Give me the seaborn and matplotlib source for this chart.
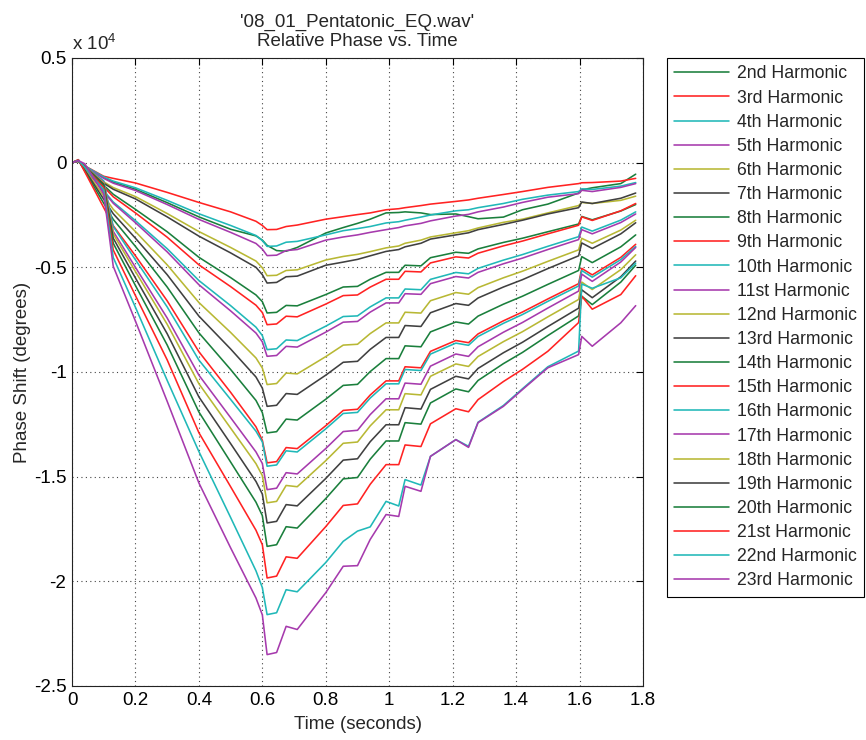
import matplotlib
matplotlib.use("Agg")
import matplotlib.pyplot as plt
import pandas as pd
import seaborn as sns
from matplotlib.ticker import FuncFormatter, MultipleLocator

# ---------------- data ----------------
time_s = [0.00, 0.02, 0.04, 0.10, 0.13, 0.20, 0.30, 0.40, 0.50, 0.58, 0.60, 0.615,
          0.645, 0.675, 0.71, 0.80, 0.855, 0.90, 0.94, 0.99, 1.03, 1.05, 1.10, 1.13,
          1.21, 1.25, 1.28, 1.36, 1.42, 1.50, 1.597, 1.607, 1.64, 1.73, 1.777]

harmonic_02 = [0, 85, -170, -720, -930, -1270, -1910, -2590, -3180, -3500, -3700, -3950,
               -4200, -4230, -4050, -3360, -3100, -2900, -2700, -2400, -2380, -2350, -2400, -2480,
               -2450, -2580, -2680, -2600, -2250, -1980, -1450, -1300, -1200, -1000, -550]
harmonic_03 = [0, 60, -150, -650, -750, -970, -1420, -1900, -2350, -2800, -3000, -3200,
               -3190, -3050, -2980, -2700, -2580, -2480, -2400, -2250, -2200, -2150, -2050, -1980,
               -1850, -1780, -1700, -1520, -1380, -1180, -1000, -960, -950, -880, -750]
harmonic_04 = [0, 80, -160, -680, -880, -1200, -1800, -2440, -3000, -3480, -3720, -4000,
               -3980, -3800, -3760, -3450, -3250, -3150, -3050, -2880, -2820, -2750, -2600, -2500,
               -2300, -2250, -2150, -1950, -1750, -1550, -1380, -1250, -1280, -1120, -950]
harmonic_05 = [0, 90, -180, -750, -980, -1330, -2000, -2710, -3330, -3860, -4130, -4440,
               -4420, -4200, -4150, -3700, -3550, -3450, -3330, -3200, -3100, -3020, -2900, -2780,
               -2550, -2470, -2350, -2120, -1900, -1650, -1480, -1320, -1380, -1180, -1000]
harmonic_06 = [0, 110, -220, -920, -1190, -1620, -2430, -3290, -4050, -4700, -5020, -5400,
               -5380, -5150, -5120, -4650, -4480, -4380, -4250, -4070, -3980, -3850, -3700, -3550,
               -3350, -3250, -3120, -2850, -2700, -2400, -2050, -1900, -1950, -1800, -1600]
harmonic_07 = [0, 115, -230, -980, -1270, -1730, -2590, -3510, -4310, -5000, -5350, -5750,
               -5720, -5450, -5420, -4900, -4750, -4620, -4450, -4240, -4150, -4020, -3850, -3650,
               -3450, -3350, -3200, -2950, -2750, -2450, -2150, -1880, -1950, -1700, -1450]
harmonic_08 = [0, 70, -215, -1080, -1510, -2230, -3300, -4520, -5490, -6320, -6640, -7180,
               -7150, -6820, -6840, -6300, -5940, -5910, -5570, -5240, -5240, -4900, -4930, -4540,
               -4280, -4330, -4120, -3810, -3610, -3300, -2930, -2570, -2730, -2310, -2000]
harmonic_09 = [0, 80, -230, -1160, -1630, -2400, -3560, -4880, -5920, -6810, -7160, -7740,
               -7705, -7335, -7365, -6755, -6350, -6320, -5945, -5570, -5570, -5190, -5220, -4790,
               -4500, -4555, -4325, -3975, -3745, -3400, -2990, -2590, -2760, -2300, -1950]
harmonic_10 = [0, 90, -270, -1340, -1880, -2770, -4110, -5630, -6830, -7860, -8260, -8930,
               -8890, -8470, -8500, -7810, -7350, -7320, -6890, -6460, -6460, -6035, -6070, -5575,
               -5245, -5310, -5050, -4655, -4390, -3995, -3535, -3075, -3270, -2745, -2350]
harmonic_11 = [0, 90, -280, -1390, -1940, -2870, -4260, -5830, -7080, -8140, -8560, -9250,
               -9210, -8775, -8810, -8095, -7620, -7585, -7140, -6700, -6700, -6260, -6290, -5780,
               -5440, -5510, -5240, -4830, -4560, -4150, -3675, -3200, -3400, -2860, -2450]
harmonic_12 = [0, 105, -320, -1590, -2230, -3290, -4880, -6680, -8110, -9330, -9810, -10600,
               -10550, -10050, -10090, -9265, -8715, -8675, -8165, -7655, -7655, -7145, -7185, -6595,
               -6205, -6285, -5970, -5500, -5185, -4715, -4165, -3615, -3850, -3220, -2750]
harmonic_13 = [0, 115, -350, -1750, -2440, -3610, -5350, -7330, -8900, -10240, -10770, -11640,
               -11590, -11030, -11070, -10150, -9535, -9490, -8920, -8350, -8350, -7780, -7825, -7170,
               -6730, -6815, -6465, -5940, -5590, -5060, -4450, -3835, -4100, -3400, -2870]
harmonic_14 = [0, 130, -390, -1940, -2710, -4000, -5940, -8130, -9880, -11360, -11940, -12910,
               -12850, -12250, -12295, -11300, -10640, -10590, -9980, -9360, -9360, -8750, -8795, -8085,
               -7610, -7710, -7330, -6760, -6380, -5815, -5150, -4490, -4775, -4020, -3450]
harmonic_15 = [0, 145, -430, -2150, -3010, -4450, -6600, -9030, -10970, -12620, -13260, -14340,
               -14280, -13610, -13660, -12565, -11835, -11780, -11100, -10425, -10425, -9750, -9800, -9015,
               -8495, -8600, -8180, -7555, -7135, -6510, -5780, -5050, -5360, -4525, -3900]
harmonic_16 = [0, 70, -145, -870, -3050, -4640, -6890, -9430, -11310, -12830, -13340, -14500,
               -14440, -13765, -13820, -12715, -11980, -11930, -11245, -10565, -10565, -9880, -9930, -9145,
               -8620, -8725, -8305, -7675, -7255, -6625, -5890, -5155, -5470, -4630, -4000]
harmonic_17 = [0, 80, -160, -940, -3280, -5000, -7420, -10150, -12180, -13820, -14370, -15620,
               -15550, -14810, -14870, -13655, -12845, -12785, -12035, -11280, -11280, -10530, -10585, -9720,
               -9140, -9255, -8795, -8100, -7635, -6945, -6135, -5325, -5670, -4745, -4050]
harmonic_18 = [0, 80, -160, -975, -3410, -5200, -7720, -10560, -12680, -14380, -14950, -16250,
               -16180, -15420, -15480, -14235, -13405, -13345, -12575, -11805, -11805, -11035, -11095, -10205,
               -9615, -9735, -9260, -8550, -8075, -7365, -6535, -5705, -6060, -5110, -4400]
harmonic_19 = [0, 85, -170, -1030, -3610, -5510, -8170, -11190, -13420, -15230, -15830, -17210,
               -17135, -16335, -16395, -15085, -14210, -14145, -13330, -12520, -12520, -11705, -11770, -10830,
               -10205, -10330, -9830, -9080, -8580, -7830, -6950, -6075, -6450, -5450, -4700]
harmonic_20 = [0, 90, -180, -1100, -3850, -5870, -8710, -11910, -14300, -16220, -16860, -18330,
               -18250, -17390, -17455, -16045, -15105, -15040, -14165, -13295, -13295, -12420, -12490, -11480,
               -10810, -10945, -10405, -9600, -9065, -8260, -7320, -6380, -6780, -5705, -4900]
harmonic_21 = [0, 100, -200, -1190, -4170, -6350, -9420, -12900, -15480, -17560, -18250, -19840,
               -19750, -18830, -18900, -17385, -16375, -16300, -15365, -14425, -14425, -13485, -13560, -12475,
               -11755, -11900, -11320, -10455, -9875, -9010, -7640, -6380, -7000, -6300, -5400]
harmonic_22 = [0, 110, -215, -1300, -4530, -6910, -10400, -13800, -16950, -19500, -20300, -21590,
               -21500, -20400, -20500, -19100, -18090, -17600, -17400, -16180, -16400, -15140, -15400, -14030,
               -13230, -13550, -12400, -11600, -10800, -9750, -9000, -5800, -6000, -5500, -4800]
harmonic_23 = [0, 100, -50, -1500, -4950, -7570, -11400, -15300, -18400, -20800, -21600, -23500,
               -23400, -22150, -22300, -20540, -19280, -19250, -18000, -16810, -16900, -15460, -15700, -14030,
               -13230, -13600, -12420, -11640, -10840, -9800, -9170, -8300, -8770, -7650, -6830]

harmonic_labels = ["2nd Harmonic", "3rd Harmonic", "4th Harmonic", "5th Harmonic",
                   "6th Harmonic", "7th Harmonic", "8th Harmonic", "9th Harmonic",
                   "10th Harmonic", "11st Harmonic", "12nd Harmonic", "13rd Harmonic",
                   "14th Harmonic", "15th Harmonic", "16th Harmonic", "17th Harmonic",
                   "18th Harmonic", "19th Harmonic", "20th Harmonic", "21st Harmonic",
                   "22nd Harmonic", "23rd Harmonic"]

series = [harmonic_02, harmonic_03, harmonic_04, harmonic_05, harmonic_06, harmonic_07,
          harmonic_08, harmonic_09, harmonic_10, harmonic_11, harmonic_12, harmonic_13,
          harmonic_14, harmonic_15, harmonic_16, harmonic_17, harmonic_18, harmonic_19,
          harmonic_20, harmonic_21, harmonic_22, harmonic_23]

color_cycle = ["#1a7f3c", "#ff2222", "#20b8b8", "#a63aad", "#b8b834", "#404040"]

# ---------------- build long table ----------------
frames = []
for vals, lab in zip(series, harmonic_labels):
    frames.append(pd.DataFrame({"Time": time_s, "Phase": vals, "Harmonic": lab}))
df = pd.concat(frames, ignore_index=True)
palette = [color_cycle[i % len(color_cycle)] for i in range(len(harmonic_labels))]

sns.set_theme(style="white")
plt.rcParams["font.family"] = ["Liberation Sans", "DejaVu Sans"]
plt.rcParams["mathtext.fontset"] = "custom"
plt.rcParams["mathtext.rm"] = "Liberation Sans"
plt.rcParams["mathtext.it"] = "Liberation Sans"

W, H = 866, 740
FS = 13.5
fig = plt.figure(figsize=(W / 100, H / 100), dpi=100)
ax = fig.add_axes([72 / W, 1 - 686 / H, (643 - 72) / W, (686 - 58) / H])

sns.lineplot(data=df, x="Time", y="Phase", hue="Harmonic", hue_order=harmonic_labels,
             palette=palette, estimator=None, sort=False, linewidth=1.15, ax=ax)

ax.set_xlim(0, 1.8)
ax.set_ylim(-25000, 5000)
ax.xaxis.set_major_locator(MultipleLocator(0.2))
ax.yaxis.set_major_locator(MultipleLocator(5000))
ax.xaxis.set_major_formatter(FuncFormatter(lambda v, p: "0" if abs(v) < 1e-9 else f"{v:g}"))
ax.yaxis.set_major_formatter(FuncFormatter(lambda v, p: "0" if abs(v) < 1e-9 else f"{v / 1e4:g}"))

ax.grid(True, linestyle=(0, (1, 3)), color="#444444", linewidth=0.8)
ax.tick_params(direction="in", top=True, right=True, length=5, width=0.8,
               labelsize=FS, colors="black", pad=4)
for s in ax.spines.values():
    s.set_color("#222222")
    s.set_linewidth(0.8)

ax.set_title("'08_01_Pentatonic_EQ.wav'\nRelative Phase vs. Time", fontsize=FS,
             pad=9, linespacing=1.15)
ax.set_xlabel("Time (seconds)", fontsize=FS, labelpad=5.5)
ax.set_ylabel("Phase Shift (degrees)", fontsize=FS, labelpad=2)
ax.text(0.0, 1.006, r"x 10$^{4}$", transform=ax.transAxes, ha="left", va="bottom", fontsize=FS)

handles, labels = ax.get_legend_handles_labels()
ax.legend(handles, labels, loc="upper left", bbox_to_anchor=(667 / W, 1 - 58 / H),
          bbox_transform=fig.transFigure, frameon=True, fancybox=False, edgecolor="black",
          framealpha=1, fontsize=12.7, handlelength=3.1, handletextpad=0.45,
          labelspacing=0.405, borderpad=0.42, borderaxespad=0)
ax.get_legend().get_frame().set_linewidth(0.8)

fig.savefig("out.png", dpi=100, facecolor="white")
